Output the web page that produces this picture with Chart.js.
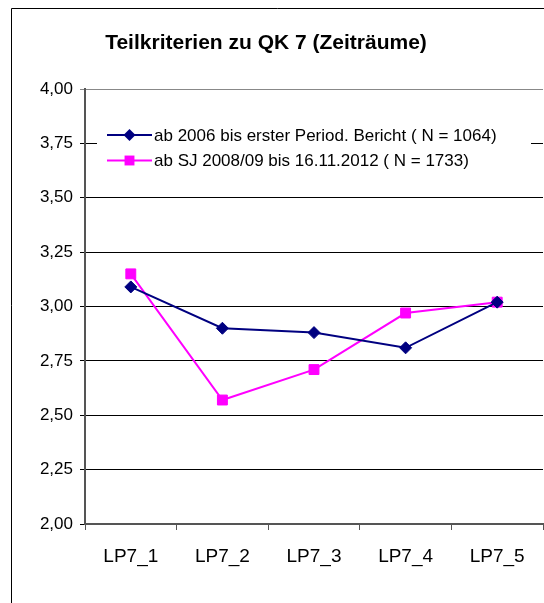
<!DOCTYPE html>
<html>
<head>
<meta charset="utf-8">
<script src="https://cdn.jsdelivr.net/npm/chart.js@4.4.0/dist/chart.umd.min.js"></script>
<style>
  html, body { margin: 0; padding: 0; background: #fff; }
</style>
</head>
<body>
<canvas id="qk7" width="544" height="603"></canvas>
<script>
/*_____________________DATA____________________*/

const chartTitle = 'Teilkriterien zu QK 7 (Zeiträume)';
const categories = ['LP7_1', 'LP7_2', 'LP7_3', 'LP7_4', 'LP7_5'];
const label_2006 = 'ab 2006 bis erster Period. Bericht ( N = 1064)';
const label_2008 = 'ab SJ 2008/09 bis 16.11.2012 ( N = 1733)';
const values_2006 = [3.09, 2.90, 2.88, 2.81, 3.02];
const values_2008 = [3.15, 2.57, 2.71, 2.97, 3.02];
const yMin = 2;
const yMax = 4;
const yStep = 0.25;

const FONT = 'Liberation Sans, Arial, sans-serif';

/*_____________________FRAME_AND_TITLE____________________*/

const frameTitle = {
  id: 'frameTitle',
  beforeDraw(chart) {
    const ctx = chart.ctx;
    ctx.save();
    ctx.fillStyle = '#fff';
    ctx.fillRect(0, 0, chart.width, chart.height);
    ctx.strokeStyle = '#000';
    ctx.lineWidth = 1;
    ctx.beginPath();
    ctx.moveTo(11.5, chart.height);
    ctx.lineTo(11.5, 8.5);
    ctx.lineTo(chart.width, 8.5);
    ctx.stroke();
    ctx.fillStyle = '#000';
    ctx.font = 'bold 21px ' + FONT;
    ctx.textAlign = 'center';
    ctx.textBaseline = 'middle';
    ctx.fillText(chartTitle, 266, 43);
    ctx.restore();
  }
};

/*_____________________LEGEND_IN_PLOT____________________*/

function marker(ctx, style, x, y, r) {
  ctx.beginPath();
  if (style === 'rectRot') {
    ctx.moveTo(x, y - r);
    ctx.lineTo(x + r, y);
    ctx.lineTo(x, y + r);
    ctx.lineTo(x - r, y);
  } else {
    const s = r * Math.SQRT1_2;
    ctx.rect(x - s, y - s, 2 * s, 2 * s);
  }
  ctx.closePath();
  ctx.fill();
}

const innerLegend = {
  id: 'innerLegend',
  beforeDatasetsDraw(chart) {
    const ctx = chart.ctx;
    const left = chart.chartArea.left;
    ctx.save();
    ctx.fillStyle = '#fff';
    ctx.fillRect(left + 12, 119, 434, 54);
    chart.data.datasets.forEach((ds, i) => {
      const y = 135 + i * 25.5;
      ctx.strokeStyle = ds.borderColor;
      ctx.lineWidth = 2;
      ctx.beginPath();
      ctx.moveTo(left + 22, y);
      ctx.lineTo(left + 67, y);
      ctx.stroke();
      ctx.fillStyle = ds.backgroundColor;
      marker(ctx, ds.pointStyle, left + 44.5, y, ds.pointRadius);
      ctx.fillStyle = '#000';
      ctx.font = '17px ' + FONT;
      ctx.textAlign = 'left';
      ctx.textBaseline = 'middle';
      ctx.fillText(ds.label, left + 69, y + 1);
    });
    ctx.restore();
  }
};

/*_____________________CHART____________________*/

const qk7 = document.getElementById('qk7');
const qk7_setup = {
  labels: categories,
  datasets: [
    {
      label: label_2006,
      data: values_2006,
      borderColor: '#000080',
      backgroundColor: '#000080',
      borderWidth: 2,
      pointStyle: 'rectRot',
      pointRadius: 6,
      pointBorderWidth: 1,
      tension: 0
    },
    {
      label: label_2008,
      data: values_2008,
      borderColor: '#ff00ff',
      backgroundColor: '#ff00ff',
      borderWidth: 2,
      pointStyle: 'rect',
      pointRadius: 7,
      pointBorderWidth: 1,
      tension: 0
    }
  ]
};

new Chart(qk7, {
  type: 'line',
  data: qk7_setup,
  plugins: [frameTitle, innerLegend],
  options: {
    responsive: false,
    animation: false,
    devicePixelRatio: 1,
    layout: { autoPadding: false, padding: { top: 89, right: 1, left: 0, bottom: 0 } },
    plugins: {
      legend: { display: false },
      title: { display: false },
      tooltip: { enabled: false }
    },
    scales: {
      x: {
        type: 'category',
        offset: true,
        grid: { offset: true, drawOnChartArea: false, tickLength: 6, color: '#555' },
        border: { color: '#555', width: 2 },
        ticks: { color: '#000', font: { size: 19, family: FONT }, padding: 15, maxRotation: 0, autoSkip: false },
        afterFit: s => { s.height = 79; }
      },
      y: {
        min: yMin,
        max: yMax,
        ticks: {
          stepSize: yStep,
          color: '#000',
          font: { size: 17, family: FONT },
          padding: 7,
          callback: v => v.toFixed(2).replace('.', ',')
        },
        grid: {
          tickLength: 5,
          color: c => (c.tick && c.tick.value === yMax) ? '#888' : '#000'
        },
        border: { color: '#555', width: 2 },
        afterFit: s => { s.width = 85; }
      }
    }
  }
});
</script>
</body>
</html>
